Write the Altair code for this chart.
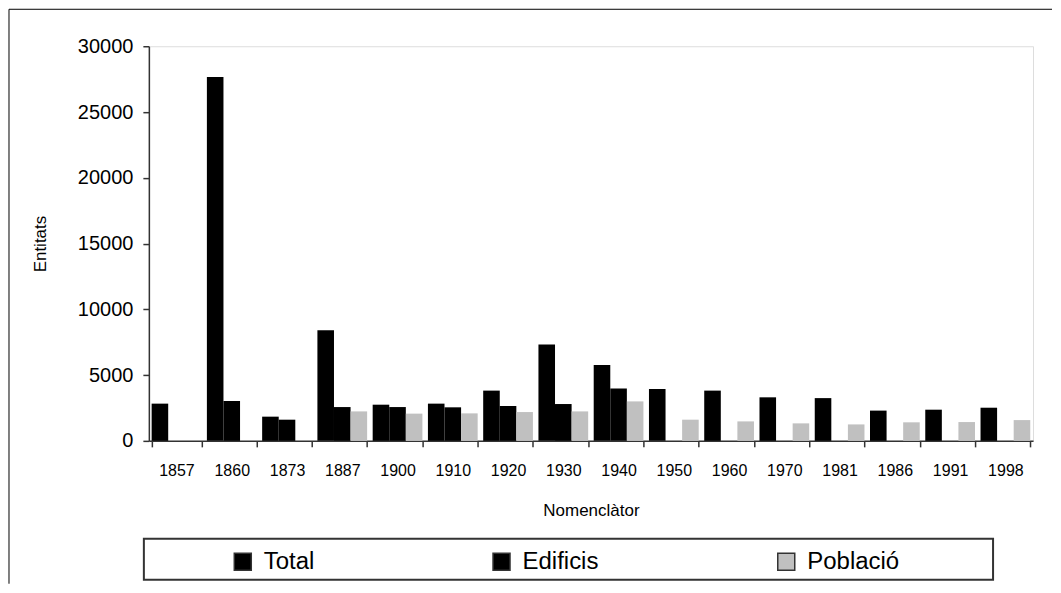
import altair as alt
import pandas as pd

years = ["1857", "1860", "1873", "1887", "1900", "1910", "1920", "1930",
         "1940", "1950", "1960", "1970", "1981", "1986", "1991", "1998"]
series = ["Total", "Edificis", "Població"]
total = [2830, 27670, 1840, 8400, 2750, 2830, 3820, 7320,
         5760, 3940, 3820, 3310, 3250, 2300, 2370, 2520]
edificis = [None, 3030, 1610, 2570, 2570, 2550, 2650, 2800,
            3990, None, None, None, None, None, None, None]
poblacio = [None, None, None, 2240, 2070, 2090, 2190, 2240,
            3000, 1610, 1480, 1330, 1250, 1410, 1430, 1580]
colors = ["#000000", "#000000", "#C0C0C0"]
y_ticks = [0, 5000, 10000, 15000, 20000, 25000, 30000]

rows = []
for i, yr in enumerate(years):
    for s, vals in zip(series, [total, edificis, poblacio]):
        if vals[i] is not None:
            rows.append({"any": yr, "serie": s, "valor": vals[i]})
df = pd.DataFrame(rows)

FONT = "Liberation Sans"

bars = alt.Chart(df).mark_bar().encode(
    x=alt.X("any:N", sort=years, title="Nomenclàtor",
            scale=alt.Scale(paddingInner=0.1, paddingOuter=0.05),
            axis=alt.Axis(labelAngle=0, tickBand="extent", tickSize=6,
                          labelPadding=16, labelFontSize=16, titleFontSize=17,
                          titlePadding=24, labelFont=FONT, titleFont=FONT,
                          titleFontWeight="normal", domainColor="#333",
                          tickColor="#333", labelColor="#000", titleColor="#000",
                          domainWidth=1.5, tickWidth=1.5, grid=False)),
    xOffset=alt.XOffset("serie:N", sort=series,
                        scale=alt.Scale(domain=series, paddingInner=0, paddingOuter=0)),
    y=alt.Y("valor:Q", title="Entitats",
            scale=alt.Scale(domain=[0, 30000], nice=False),
            axis=alt.Axis(values=y_ticks, format="d", tickSize=6, labelPadding=10,
                          labelFontSize=20, titleFontSize=17, titlePadding=28,
                          labelFont=FONT, titleFont=FONT, titleFontWeight="normal",
                          domainColor="#333", tickColor="#333", labelColor="#000",
                          titleColor="#000", domainWidth=1.5, tickWidth=1.5,
                          grid=False)),
    color=alt.Color("serie:N", sort=series,
                    scale=alt.Scale(domain=series, range=colors),
                    legend=alt.Legend(title=None, orient="none", legendX=82,
                                      legendY=504, direction="horizontal",
                                      columns=3, columnPadding=175,
                                      symbolType="square", symbolSize=289,
                                      symbolStrokeColor="#333",
                                      symbolStrokeWidth=1.5,
                                      labelFontSize=24, labelFont=FONT,
                                      labelColor="#000", labelOffset=9,
                                      padding=0)),
)

one = alt.Data(values=[{"k": 1}])

legend_box = alt.Chart(one).mark_rect(fillOpacity=0, stroke="#333", strokeWidth=2).encode(
    x=alt.value(-5), x2=alt.value(845), y=alt.value(493), y2=alt.value(534)
)
frame_top = alt.Chart(one).mark_rule(color="#000", strokeWidth=1).encode(
    x=alt.value(-140), x2=alt.value(904), y=alt.value(-37)
)
frame_left = alt.Chart(one).mark_rule(color="#000", strokeWidth=1).encode(
    x=alt.value(-140), y=alt.value(-37), y2=alt.value(538)
)

chart = alt.layer(frame_top, frame_left, legend_box, bars).properties(
    width=885, height=395,
    padding={"left": 0, "top": 0, "right": 0, "bottom": 0},
).configure_view(stroke="#000", strokeWidth=1.5).configure(background="white")

chart.save("out.html", embed_options={"renderer": "svg", "actions": False})
